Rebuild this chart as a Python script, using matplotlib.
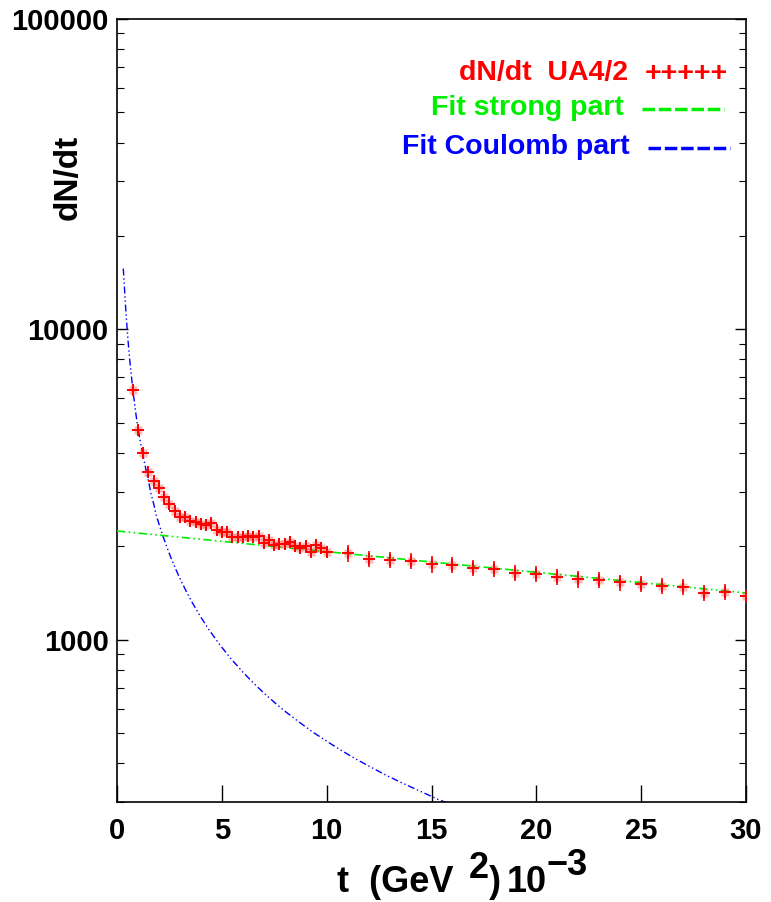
import matplotlib
matplotlib.use("Agg")
import matplotlib.pyplot as plt
from matplotlib.lines import Line2D
from matplotlib.ticker import FixedLocator, FixedFormatter, LogLocator, NullFormatter

plt.rcParams['font.family'] = ['Liberation Sans', 'DejaVu Sans']
plt.rcParams['font.weight'] = 'bold'

# ---------------- data ----------------
t_data = [0.75, 1.0, 1.25, 1.5, 1.75, 2.0, 2.25, 2.5, 2.75, 3.0, 3.25, 3.5, 3.75, 4.0,
          4.25, 4.5, 4.75, 5.0, 5.25, 5.5, 5.75, 6.0, 6.25, 6.5, 6.75, 7.0, 7.25, 7.5,
          7.75, 8.0, 8.25, 8.5, 8.75, 9.0, 9.25, 9.5, 9.75, 10.0,
          11, 12, 13, 14, 15, 16, 17, 18, 19, 20, 21, 22, 23, 24, 25, 26, 27, 28, 29, 30]
dndt = [6400, 4730, 4010, 3480, 3250, 3080, 2890, 2730, 2600, 2490, 2480, 2420, 2400, 2360,
        2340, 2370, 2250, 2220, 2220, 2150, 2140, 2140, 2160, 2150, 2160, 2050, 2100, 2020,
        2040, 2040, 2070, 2000, 1980, 2000, 1920, 2020, 1970, 1920,
        1900, 1822, 1807, 1795, 1751, 1742, 1708, 1687, 1646, 1630, 1598, 1567, 1560, 1529,
        1514, 1491, 1484, 1413, 1426, 1385]
dndt_err = [250, 190, 160, 140, 130, 120, 115, 110, 105, 100, 100, 95, 95, 95,
            95, 95, 90, 90, 90, 85, 85, 85, 85, 85, 85, 80, 85, 80,
            80, 80, 85, 80, 80, 80, 75, 80, 80, 75,
            115, 110, 108, 108, 105, 105, 102, 100, 99, 98, 96, 94, 94, 92,
            91, 89, 89, 85, 86, 83]

t_strong = [0.0, 30.0]
fit_strong = [2240, 1415]

t_coul = [0.3, 0.35, 0.4, 0.45, 0.5, 0.55, 0.6, 0.67, 0.75, 0.82, 0.9, 1.0, 1.1, 1.25,
          1.4, 1.5, 1.62, 1.75, 1.87, 2.0, 2.2, 2.4, 2.6, 2.8, 3.0, 3.3, 3.6, 4.0,
          4.4, 4.9, 5.4, 6.0, 6.5, 7.0, 7.5, 8.0, 8.7, 9.3, 10.0, 10.6, 11.3, 12.0,
          12.9, 13.5, 14.2, 14.9, 15.3, 15.7, 16.0]
fit_coul = [15700, 13800, 12100, 10800, 9700, 8800, 8080, 7250, 6450, 5900, 5350, 4790,
            4400, 3900, 3480, 3250, 2960, 2740, 2520, 2362, 2148, 1970, 1818, 1689,
            1576, 1433, 1313, 1182, 1074, 964, 874, 787, 726, 674, 629, 589, 542, 506,
            471, 444, 416, 392, 364, 348, 331, 315, 306, 299, 294]

x_ticks = [0, 5, 10, 15, 20, 25, 30]
y_ticks = [1000, 10000, 100000]
y_ticklabels = ['1000', '10000', '100000']

legend_labels = ['dN/dt  UA4/2', 'Fit strong part', 'Fit Coulomb part']

# ---------------- figure ----------------
W, H = 771, 902
fig = plt.figure(figsize=(W / 100, H / 100), dpi=100)
ax = fig.add_axes([117 / W, 1 - 802 / H, 629 / W, 783 / H])
ax.set_yscale('log')
ax.set_xlim(0, 30)
ax.set_ylim(300, 100000)

RED = '#ff0000'
GREEN = '#00ee00'
BLUE = '#0000ff'

# curves
ax.plot(t_coul, fit_coul, color=BLUE, lw=1.0, dashes=(5, 2, 1, 2, 1, 2), zorder=2)
ax.plot(t_strong, fit_strong, color=GREEN, lw=1.2, dashes=(5, 2, 1, 2, 1, 2), zorder=3)

# data points
ax.plot(t_data, dndt, ls='none', marker='s', ms=6, color=RED, alpha=0.28, mec='none', zorder=4)
ax.errorbar(t_data, dndt, yerr=dndt_err, fmt='+', color=RED, ms=8, mew=1.4,
            elinewidth=1.2, capsize=0, zorder=5)

# ticks
ax.xaxis.set_major_locator(FixedLocator(x_ticks))
ax.tick_params(axis='x', which='major', direction='in', length=12, width=1.0,
               top=False, bottom=True, labelsize=21, pad=11)
ax.yaxis.set_major_locator(FixedLocator(y_ticks))
ax.yaxis.set_major_formatter(FixedFormatter(y_ticklabels))
ax.yaxis.set_minor_locator(LogLocator(base=10, subs=[2, 3, 4, 5, 6, 7, 8, 9]))
ax.yaxis.set_minor_formatter(NullFormatter())
ax.tick_params(axis='y', which='major', direction='in', length=8, width=1.0,
               left=True, right=True, labelsize=21, pad=6)
ax.tick_params(axis='y', which='minor', direction='in', length=5, width=0.8,
               left=True, right=True)
for s in ax.spines.values():
    s.set_linewidth(1.2)

def fx(x):
    return x / W

def fy(y):
    return 1 - y / H

# y label
fig.text(fx(68), fy(177), 'dN/dt', rotation=90, ha='center', va='center',
         fontsize=24, fontweight='bold')

# x label (pieces, superscripts same size raised)
fs_xl = 26
fig.text(fx(337), fy(892), 't  (GeV', ha='left', va='baseline', fontsize=fs_xl)
fig.text(fx(469), fy(878), '2', ha='left', va='baseline', fontsize=fs_xl)
fig.text(fx(489), fy(892), ')', ha='left', va='baseline', fontsize=fs_xl)
fig.text(fx(507), fy(892), '10', ha='left', va='baseline', fontsize=fs_xl)
fig.text(fx(547), fy(875), '\u22123', ha='left', va='baseline', fontsize=fs_xl)

# legend
fig.text(fx(628), fy(73), legend_labels[0], ha='right', va='center', fontsize=20.5, color=RED)
fig.text(fx(645), fy(74), '+++++', ha='left', va='center', fontsize=20.5, color=RED)
fig.text(fx(624), fy(108), legend_labels[1], ha='right', va='center', fontsize=20.5, color=GREEN)
fig.add_artist(Line2D([fx(642), fx(724)], [fy(109), fy(109)], transform=fig.transFigure,
                      color=GREEN, lw=2.5, dashes=(3.6, 1.1)))
fig.text(fx(630), fy(147), legend_labels[2], ha='right', va='center', fontsize=20.5, color=BLUE)
fig.add_artist(Line2D([fx(648), fx(730)], [fy(148), fy(148)], transform=fig.transFigure,
                      color=BLUE, lw=2.5, dashes=(3.6, 1.1)))

fig.savefig('out.png', dpi=100)
